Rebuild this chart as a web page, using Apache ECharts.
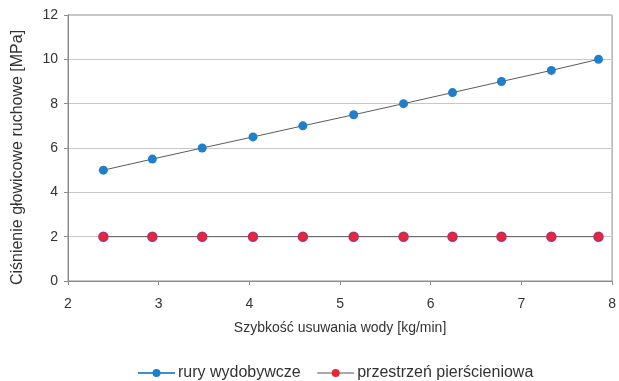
<!DOCTYPE html>
<html><head><meta charset="utf-8">
<script src="https://cdn.jsdelivr.net/npm/echarts@6/dist/echarts.min.js"></script>
<style>html,body{margin:0;padding:0;background:#fff}#c{width:619px;height:381px}</style>
</head><body><div id="c"></div>
<script>
const xValues = [2.39, 2.93, 3.48, 4.04, 4.59, 5.15, 5.70, 6.24, 6.78, 7.33, 7.85];
const ruryValues = [5.0, 5.5, 6.0, 6.5, 7.0, 7.5, 8.0, 8.5, 9.0, 9.5, 10.0];
const przestrzenValues = [2.0, 2.0, 2.0, 2.0, 2.0, 2.0, 2.0, 2.0, 2.0, 2.0, 2.0];
const seriesNames = ['rury wydobywcze', 'przestrzeń pierścieniowa'];
const xAxisTitle = 'Szybkość usuwania wody [kg/min]';
const yAxisTitle = 'Ciśnienie głowicowe ruchowe [MPa]';

const font = 'Liberation Sans, Arial, sans-serif';
const chart = echarts.init(document.getElementById('c'), null, {renderer: 'canvas'});
const pairs = vals => xValues.map((x, i) => [x, vals[i]]);
chart.setOption({
  animation: false,
  textStyle: {fontFamily: font},
  grid: {left: 68, right: 5, top: 15, bottom: 100, show: true, borderColor: '#8c8c8c', borderWidth: 1},
  xAxis: {
    type: 'value', min: 2, max: 8, interval: 1,
    name: xAxisTitle, nameLocation: 'middle', nameGap: 40,
    nameTextStyle: {fontSize: 14, color: '#333', fontFamily: font},
    axisLine: {lineStyle: {color: '#8c8c8c'}},
    axisTick: {show: true, length: 4, lineStyle: {color: '#8c8c8c'}},
    axisLabel: {fontSize: 14, color: '#333', margin: 16, fontFamily: font},
    splitLine: {show: false}
  },
  yAxis: {
    type: 'value', min: 0, max: 12, interval: 2,
    name: yAxisTitle, nameLocation: 'middle', nameGap: 42, nameRotate: 90,
    nameTextStyle: {fontSize: 16, color: '#333', fontFamily: font, padding: [0, 19, 0, 0]},
    axisLine: {show: true, lineStyle: {color: '#8c8c8c'}},
    axisTick: {show: true, length: 4, lineStyle: {color: '#8c8c8c'}},
    axisLabel: {fontSize: 14, color: '#333', margin: 10, fontFamily: font},
    splitLine: {lineStyle: {color: '#c8c8c8', width: 1}}
  },
  legend: {
    top: 360, left: 132, itemGap: 16, itemWidth: 37, itemHeight: 10,
    textStyle: {fontSize: 16, color: '#333', fontFamily: font, padding: [0, 0, 0, -2]},
    data: [
      {name: seriesNames[0], itemStyle: {color: '#1f7fca', borderWidth: 0}, lineStyle: {color: '#3b8fd6', width: 2}},
      {name: seriesNames[1], itemStyle: {color: '#e8253a', borderWidth: 0}, lineStyle: {color: '#555', width: 1}}
    ]
  },
  series: [
    {
      name: seriesNames[0], type: 'line', data: pairs(ruryValues),
      symbol: 'circle', symbolSize: 9,
      lineStyle: {color: '#5a5a5a', width: 1},
      itemStyle: {color: '#1f7fca', borderColor: '#1f7fca', borderWidth: 0}
    },
    {
      name: seriesNames[1], type: 'line', data: pairs(przestrzenValues),
      symbol: 'circle', symbolSize: 9,
      lineStyle: {color: '#5a5a5a', width: 1},
      itemStyle: {color: '#e8253a', borderColor: '#b3306e', borderWidth: 1.5}
    }
  ]
});
</script></body></html>
